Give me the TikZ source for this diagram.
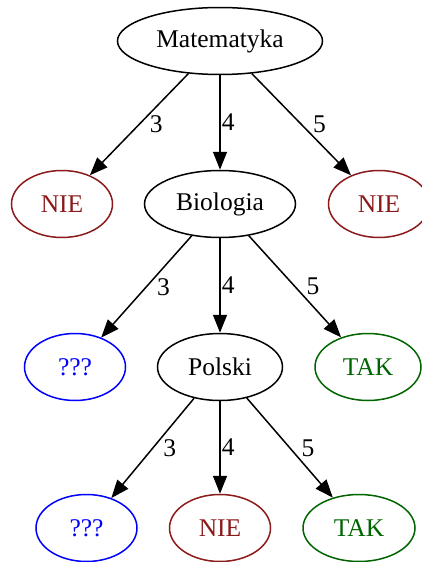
\documentclass[tikz,border=0pt]{standalone}
\usepackage{fontspec}
\setmainfont{Liberation Serif}
\usetikzlibrary{shapes.geometric,arrows.meta}
\definecolor{nie}{HTML}{8B1A1A}
\definecolor{tak}{HTML}{006400}
\definecolor{brak}{HTML}{0000FF}

\begin{document}
\begin{tikzpicture}[x=1pt, y=-1pt, font=\fontsize{25.5}{30}\selectfont,
    pytanie/.style={ellipse, draw, line width=1.5pt, minimum height=67pt, inner sep=0pt},
    odp/.style={pytanie, minimum width=101pt},
    gal/.style={line width=1.5pt, -{Triangle[length=18pt, width=14pt]}},
    waga/.style={anchor=west, inner sep=0pt, xshift=#1},
    waga/.default=10pt]
%      \draw [help lines] (0,0) grid[step=20] (422,562);
      \useasboundingbox (0,0) rectangle (422,562);

      % poziom 1
      \node [pytanie, minimum width=205pt] (mat) at (220,41) {Matematyka};

      % poziom 2
      \node [odp, draw=nie, text=nie] (nie1) at (62,204) {NIE};
      \node [pytanie, minimum width=151pt] (bio) at (220,204) {Biologia};
      \node [odp, draw=nie, text=nie] (nie2) at (379,204) {NIE};

      % poziom 3
      \node [odp, draw=brak, text=brak] (brak1) at (75,367) {???};
      \node [pytanie, minimum width=125pt] (pol) at (220,367) {Polski};
      \node [odp, minimum width=106pt, draw=tak, text=tak] (tak1) at (368,367) {TAK};

      % poziom 4
      \node [odp, draw=brak, text=brak] (brak2) at (86.5,528) {???};
      \node [odp, draw=nie, text=nie] (nie3) at (220,528) {NIE};
      \node [odp, minimum width=112pt, draw=tak, text=tak] (tak2) at (359,528) {TAK};

      \draw [gal] (mat) -- node [waga] {3} (nie1);
      \draw [gal] (mat) -- node [waga=1pt] {4} (bio);
      \draw [gal] (mat) -- node [waga=11pt] {5} (nie2);

      \draw [gal] (bio) -- node [waga] {3} (brak1);
      \draw [gal] (bio) -- node [waga=1pt] {4} (pol);
      \draw [gal] (bio) -- node [waga=11pt] {5} (tak1);

      \draw [gal] (pol) -- node [waga] {3} (brak2);
      \draw [gal] (pol) -- node [waga=1pt] {4} (nie3);
      \draw [gal] (pol) -- node [waga=11pt] {5} (tak2);
\end{tikzpicture}
\end{document}
